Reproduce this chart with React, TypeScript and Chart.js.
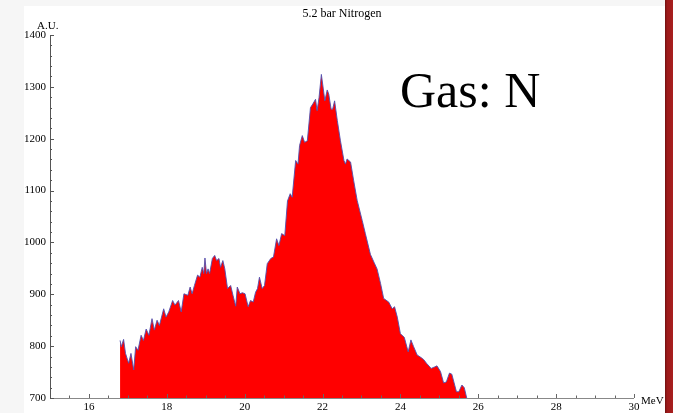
import React, { useEffect, useRef } from "react";
import { Chart, registerables } from "chart.js";

Chart.register(...registerables);

const chartTitle = "5.2 bar Nitrogen";
const yUnit = "A.U.";
const xUnit = "MeV";
const gasLabel = "Gas: N";

const energy = [
  16.8, 16.83, 16.89, 16.94, 17.02, 17.08, 17.15, 17.2, 17.26, 17.34, 17.4, 17.47, 17.54, 17.62, 17.68,
  17.75, 17.81, 17.92, 17.98, 18.05, 18.15, 18.21, 18.3, 18.37, 18.44, 18.54, 18.6, 18.65, 18.71, 18.79,
  18.85, 18.91, 18.95, 18.98, 19.02, 19.06, 19.1, 19.17, 19.23, 19.28, 19.34, 19.38, 19.44, 19.49, 19.56,
  19.64, 19.7, 19.77, 19.81, 19.88, 19.94, 20.01, 20.09, 20.15, 20.22, 20.28, 20.33, 20.38, 20.45, 20.51,
  20.58, 20.67, 20.74, 20.82, 20.88, 20.95, 21.03, 21.1, 21.17, 21.22, 21.31, 21.37, 21.41, 21.48, 21.54,
  21.61, 21.69, 21.75, 21.82, 21.86, 21.91, 21.97, 22.02, 22.06, 22.12, 22.16, 22.22, 22.26, 22.31, 22.38,
  22.46, 22.55, 22.59, 22.63, 22.72, 22.8, 22.89, 23.02, 23.1, 23.23, 23.32, 23.4, 23.49, 23.57, 23.7,
  23.79, 23.85, 23.92, 24.0, 24.1, 24.2, 24.27, 24.34, 24.43, 24.53, 24.6, 24.67, 24.79, 24.88, 24.94,
  25.03, 25.11, 25.18, 25.26, 25.32, 25.44, 25.5, 25.58, 25.64, 25.71,
];

const counts = [
  811, 799, 813, 786, 767, 786, 754, 799, 792, 821, 811, 833, 821, 853, 831,
  850, 840, 872, 856, 866, 888, 879, 888, 866, 901, 898, 914, 901, 917, 937,
  933, 952, 940, 970, 940, 949, 940, 969, 975, 965, 969, 952, 965, 949, 911,
  917, 898, 877, 914, 901, 903, 901, 876, 888, 885, 904, 911, 933, 911, 917,
  959, 969, 972, 1007, 994, 1017, 1013, 1080, 1094, 1087, 1158, 1151, 1187, 1206, 1193,
  1196, 1260, 1267, 1276, 1254, 1279, 1324, 1296, 1273, 1294, 1286, 1257, 1257, 1273, 1235,
  1196, 1158, 1151, 1161, 1155, 1119, 1081, 1042, 1017, 977, 962, 949, 921, 892, 885,
  872, 876, 856, 824, 817, 789, 812, 799, 783, 778, 774, 767, 757, 760, 762,
  751, 729, 731, 748, 746, 712, 712, 725, 720, 698,
];

const xTickLabels = [16, 18, 20, 22, 24, 26, 28, 30];
const yTickLabels = [700, 800, 900, 1000, 1100, 1200, 1300, 1400];

const SERIF = "'Liberation Serif', 'DejaVu Serif', serif";

const decorPlugin = {
  id: "decor",
  afterDraw(chart: any) {
    const { ctx, chartArea } = chart;
    const xs = chart.scales.x;
    const ys = chart.scales.y;
    ctx.save();
    ctx.lineWidth = 1;
    ctx.strokeStyle = "#555";
    ctx.beginPath();
    ctx.moveTo(chartArea.left + 0.5, chartArea.top);
    ctx.lineTo(chartArea.left + 0.5, chartArea.bottom);
    ctx.stroke();
    ctx.strokeStyle = "#888";
    ctx.beginPath();
    ctx.moveTo(chartArea.left, chartArea.bottom + 0.5);
    ctx.lineTo(chartArea.right, chartArea.bottom + 0.5);
    ctx.stroke();
    ctx.strokeStyle = "#555";
    for (let v = ys.min; v <= ys.max + 0.001; v += 20) {
      const y = Math.round(ys.getPixelForValue(v)) + 0.5;
      const len = Math.abs(v % 100) < 0.001 ? 4 : 2;
      ctx.beginPath();
      ctx.moveTo(chartArea.left, y);
      ctx.lineTo(chartArea.left + len, y);
      ctx.stroke();
    }
    ctx.strokeStyle = "#666";
    for (let v = 15.5; v <= xs.max + 0.001; v += 0.5) {
      const x = Math.round(xs.getPixelForValue(v)) + 0.5;
      const len = Math.abs(v % 2) < 0.001 ? 4 : 2.5;
      ctx.beginPath();
      ctx.moveTo(x, chartArea.bottom);
      ctx.lineTo(x, chartArea.bottom - len);
      ctx.stroke();
    }
    ctx.fillStyle = "#000";
    ctx.font = `11px ${SERIF}`;
    ctx.textAlign = "left";
    ctx.textBaseline = "alphabetic";
    ctx.fillText(yUnit, 37, 29);
    ctx.fillText(xUnit, chartArea.right + 7, 404);
    ctx.font = `50px ${SERIF}`;
    ctx.fillText(gasLabel, 400, 107);
    ctx.restore();
  },
};

export default function App() {
  const ref = useRef<HTMLCanvasElement | null>(null);

  useEffect(() => {
    if (!ref.current) return;
    const data = energy.map((x, i) => ({ x, y: counts[i] }));
    const chart = new Chart(ref.current, {
      type: "line",
      data: {
        datasets: [
          {
            label: chartTitle,
            data,
            fill: "start",
            backgroundColor: "#ff0000",
            borderColor: "rgba(80,80,175,0.9)",
            borderWidth: 1,
            pointRadius: 0,
            tension: 0,
          },
        ],
      },
      options: {
        responsive: false,
        animation: false,
        devicePixelRatio: 1,
        layout: { padding: { left: 0, right: 39, top: 0, bottom: 0 } },
        plugins: {
          legend: { display: false },
          tooltip: { enabled: false },
          title: {
            display: true,
            text: chartTitle,
            fullSize: false,
            color: "#000",
            font: { family: SERIF, size: 12, weight: "normal", lineHeight: 1.2 },
            padding: { top: 7, bottom: 13.6 },
          },
        },
        scales: {
          x: {
            type: "linear",
            min: 15,
            max: 30,
            grid: { display: false, drawTicks: false },
            border: { display: false },
            afterBuildTicks: (scale: any) => {
              scale.ticks = xTickLabels.map((v) => ({ value: v }));
            },
            afterFit: (scale: any) => {
              scale.height = 15;
            },
            ticks: {
              autoSkip: false,
              maxRotation: 0,
              padding: 3,
              color: "#000",
              font: { family: SERIF, size: 11 },
              callback: (v: any) => String(v),
            },
          },
          y: {
            type: "linear",
            min: 700,
            max: 1400,
            grid: { display: false, drawTicks: false },
            border: { display: false },
            afterBuildTicks: (scale: any) => {
              scale.ticks = yTickLabels.map((v) => ({ value: v }));
            },
            afterFit: (scale: any) => {
              scale.width = 50;
            },
            ticks: {
              autoSkip: false,
              padding: 4,
              color: "#000",
              font: { family: SERIF, size: 11 },
              callback: (v: any) => String(v),
            },
          },
        },
      },
      plugins: [decorPlugin],
    });
    return () => chart.destroy();
  }, []);

  return (
    <div
      style={{
        position: "fixed",
        left: 0,
        top: 0,
        width: 673,
        height: 413,
        background: "#f6f6f6",
        overflow: "hidden",
      }}
    >
      <div
        style={{
          position: "absolute",
          left: 24,
          top: 6,
          width: 641,
          height: 407,
          background: "#ffffff",
        }}
      />
      <div
        style={{
          position: "absolute",
          left: 665,
          top: 0,
          width: 8,
          height: 413,
          background: "linear-gradient(to right, #6e1010 0px, #9c1a1a 2px, #a81f1f 100%)",
        }}
      />
      <canvas
        ref={ref}
        width={673}
        height={413}
        style={{ position: "absolute", left: 0, top: 0, width: 673, height: 413 }}
      />
    </div>
  );
}
